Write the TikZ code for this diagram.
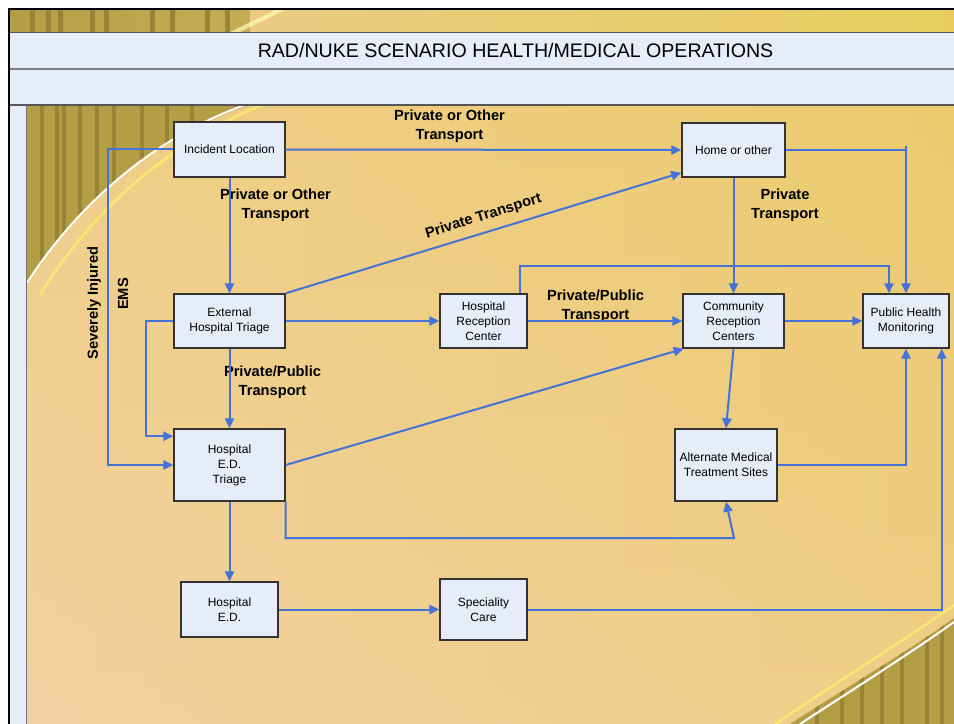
\documentclass[tikz,border=0pt]{standalone}
\usepackage{fontspec}
\setmainfont{Liberation Sans}
\usetikzlibrary{arrows.meta}
\definecolor{boxfill}{HTML}{E6EDF8}
\definecolor{flowblue}{HTML}{4472D6}
\definecolor{olive}{HTML}{B49E45}
\definecolor{olivedark}{HTML}{978436}
\definecolor{bandline}{HTML}{555555}
\definecolor{bandA}{HTML}{EBCB82}
\definecolor{bandB}{HTML}{E8CD5E}
\definecolor{bandC}{HTML}{C4AD55}
\definecolor{bgTop}{HTML}{ECCB70}
\definecolor{bgBot}{HTML}{F1D1A0}
\definecolor{bgLeft}{HTML}{F2D2A2}
\definecolor{bgRight}{HTML}{EDCB6E}
\tikzset{
  box/.style={draw=black!80, line width=1.1pt, fill=boxfill, inner sep=0pt, align=center,
    font=\fontsize{9}{11.25}\selectfont, text=black},
  sz/.style 2 args={minimum width=#1*0.75pt, minimum height=#2*0.75pt},
  flow/.style={draw=flowblue, line width=1.5pt, -{Triangle[length=7.5pt,width=7pt]}},
  plainflow/.style={draw=flowblue, line width=1.5pt},
  lbl/.style={font=\fontsize{11}{14}\bfseries\selectfont, align=center, text=black, inner sep=0pt},
}
\begin{document}
\begin{tikzpicture}[x=0.75pt,y=-0.75pt]
\useasboundingbox (0,0) rectangle (954,724);
\fill[white] (0,0) rectangle (954,724);
% top gold band
\shade[left color=olive, right color=bandC] (10,10) rectangle (250,32);
\shade[left color=bandA, right color=bandB] (250,10) rectangle (954,32);
\begin{scope}
\clip (10,10) rectangle (250,32);
\foreach \xx in {30,46,58,90,104,150,170,205,225}{\fill[olivedark] (\xx,10) rectangle ++(5,22);}
\end{scope}
\fill[white!70!yellow, opacity=0.7] (230,32) -- (240,32) -- (285,10) -- (275,10) -- cycle;
% main background
\shade[top color=bgTop, bottom color=bgBot] (27,105) rectangle (954,724);
\shade[left color=bgLeft, right color=bgRight, opacity=0.5] (27,105) rectangle (954,724);
% swoosh top-left
\begin{scope}
\clip (27,105) -- (250,105) .. controls (160,135) and (80,200) .. (27,285) -- cycle;
\fill[olive] (27,105) rectangle (260,300);
\foreach \xx in {40,55,62,78,95,112,140,165,190}{\fill[olivedark] (\xx,105) rectangle ++(4,190);}
\end{scope}
\draw[yellow!60!white, line width=2pt, opacity=0.6] (262,105) .. controls (175,140) and (95,205) .. (40,295);
\draw[white, line width=1.5pt] (245,105) .. controls (160,135) and (80,200) .. (27,283);
% swoosh bottom-right
\begin{scope}
\clip (790,724) .. controls (850,685) and (910,650) .. (954,618) -- (954,724) -- cycle;
\fill[olive] (780,600) rectangle (954,724);
\foreach \xx in {815,840,860,880,900,925,940}{\fill[olivedark] (\xx,600) rectangle ++(4,124);}
\end{scope}
\draw[yellow!60!white, line width=2pt, opacity=0.6] (775,724) .. controls (840,680) and (905,640) .. (954,605);
\draw[white, line width=1.5pt] (800,724) .. controls (860,685) and (915,650) .. (954,622);
% header bands
\fill[boxfill] (10,32) rectangle (954,105);
\fill[boxfill] (10,105) rectangle (26,724);
\draw[bandline, line width=1pt] (10,32.5) -- (954,32.5);
\draw[black!50, line width=0.9pt] (10,69) -- (954,69);
\draw[bandline, line width=1pt] (10,105) -- (954,105);
\draw[black!55, line width=0.9pt] (26.5,105) -- (26.5,724);
% outer frame
\draw[black, line width=1.6pt] (9,724) -- (9,9) -- (954,9);
\node[font=\fontsize{14.7}{17}\selectfont, inner sep=0pt] (title) at (515.5,50) {RAD/NUKE SCENARIO HEALTH/MEDICAL OPERATIONS};

% nodes
\node[box, sz={111}{55}] (inc) at (229.5,149.5) {Incident Location};
\node[box, sz={103}{54}] (home) at (733.5,150) {Home or other};
\node[box, sz={111}{54}] (ext) at (229.5,321) {External\\Hospital Triage};
\node[box, sz={87}{54}] (hrc) at (483.5,321) {Hospital\\Reception\\Center};
\node[box, sz={101}{54}] (crc) at (733.5,321) {Community\\Reception\\Centers};
\node[box, sz={86}{54}] (phm) at (906,321) {Public Health\\Monitoring};
\node[box, sz={111}{72}] (edt) at (229.5,465) {Hospital\\E.D.\\Triage};
\node[box, sz={102}{72}] (amt) at (726,465) {Alternate Medical\\Treatment Sites};
\node[box, sz={97}{55}] (hed) at (229.5,609.5) {Hospital\\E.D.};
\node[box, sz={87}{61}] (spc) at (483.5,609.5) {Speciality\\Care};

% labels
\node[lbl] (l1) at (449.5,126) {Private or Other\\Transport};
\node[lbl] (l2) at (275.5,205) {Private or Other\\Transport};
\node[lbl] (l3) at (272.5,382.5) {Private/Public\\Transport};
\node[lbl] (l4) at (595.5,306.5) {Private/Public\\Transport};
\node[lbl] (l5) at (785,205) {Private\\Transport};
\node[lbl, rotate=17.3] (l6) at (483.5,216.5) {Private Transport};
\node[lbl, rotate=90] (l7) at (94,303) {Severely Injured};
\node[lbl, rotate=90] (l8) at (123,294) {EMS};

% connectors
\coordinate (b15) at (734,538);
\coordinate (tick) at (906,146);
\draw[flow] (inc.east) -- (home.west);
\draw[flow] (inc.south) -- (ext.north);
\draw[flow] (inc.west) -- ++(-65,0) |- (edt.west);
\draw[flow] (ext.north east) -- ([yshift=3.75pt]home.south west);
\draw[flow] (ext.east) -- (hrc.west);
\draw[flow] (ext.west) -- ++(-27,0) |- ([yshift=-6pt]edt.north west);
\draw[flow] (ext.south) -- (edt.north);
\draw[flow] (hrc.east) -- (crc.west);
\draw[flow] ([xshift=-6pt]hrc.north east) -- ++(0,-27) -| ([xshift=-12.75pt]phm.north);
\draw[flow] (home.south) -- (crc.north);
\draw[flow] (home.east) -| (phm.north);
\draw[plainflow] (tick) -- ++(0,5);
\draw[flow] (crc.east) -- (phm.west);
\draw[flow] (edt.east) -- ([xshift=1pt]crc.south west);
\draw[flow] (crc.south) -- (amt.north);
\draw[flow] (edt.south east) |- (b15) -- (amt.south);
\draw[flow] (amt.east) -| (phm.south);
\draw[flow] (edt.south) -- (hed.north);
\draw[flow] (hed.east) -- (spc.west);
\draw[flow] (spc.east) -| ([xshift=-6pt]phm.south east);
\end{tikzpicture}
\end{document}
